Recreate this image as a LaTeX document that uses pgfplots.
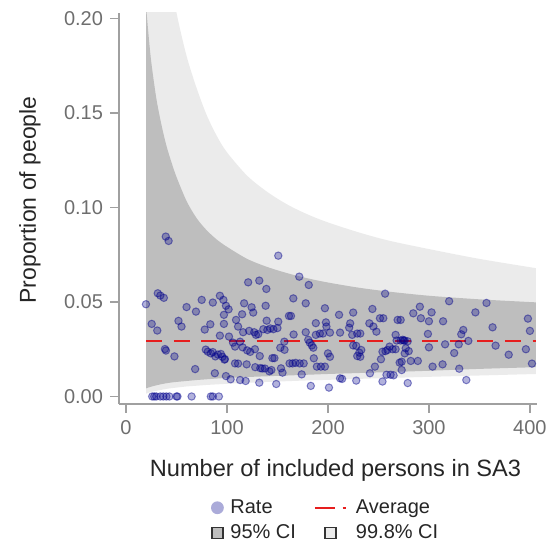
\documentclass[border=0pt]{standalone}
\usepackage{fontspec}
\setmainfont{Liberation Sans}
\usepackage{pgfplots}
\pgfplotsset{compat=1.18}
\usepackage{pgfplotstable}
\usepgfplotslibrary{fillbetween}

\definecolor{ci95}{RGB}{190,190,190}
\definecolor{ci998}{RGB}{235,235,235}
\definecolor{ptcol}{RGB}{0,0,139}
\definecolor{avgred}{RGB}{230,30,30}
\definecolor{axgray}{RGB}{160,160,160}
\definecolor{tickgray}{RGB}{110,110,110}

\pgfplotstableread{
n l998 l95 u95 u998
20 0.0015 0.0043 0.2060 0.450
22 0.0019 0.0047 0.1934 0.420
25 0.0024 0.0052 0.1772 0.380
30 0.0030 0.0059 0.1579 0.320
35 0.0035 0.0065 0.1441 0.280
40 0.0040 0.0070 0.1328 0.245
45 0.0044 0.0074 0.1240 0.222
50 0.0047 0.0077 0.1162 0.2032
60 0.0053 0.0082 0.1034 0.1802
70 0.0057 0.0087 0.0943 0.1631
80 0.0061 0.0091 0.0879 0.1488
90 0.0064 0.0095 0.0830 0.1378
100 0.0067 0.0098 0.0792 0.1292
120 0.0072 0.0103 0.0728 0.1168
140 0.0077 0.0107 0.0685 0.1082
160 0.0081 0.0111 0.0652 0.1015
180 0.0085 0.0115 0.0625 0.0963
200 0.0088 0.0119 0.0603 0.0921
230 0.0093 0.0124 0.0576 0.0869
260 0.0098 0.0129 0.0555 0.0825
300 0.0104 0.0136 0.0533 0.0780
350 0.0111 0.0146 0.0514 0.0728
406 0.0119 0.0155 0.0498 0.0679
}\bands

\pgfplotstableread{
n rate
26 0
28 0
30 0
34 0
37 0
40 0
43 0
50 0
51 0
65 0
84 0
86 0
92 0
19.8 0.0488
25.5 0.0384
31 0.0349
31.5 0.0546
34 0.0534
37.5 0.0522
38.6 0.0251
39.6 0.0243
39.4 0.0846
42.2 0.0823
48 0.0212
52 0.0400
55 0.0370
60 0.0473
68.5 0.0145
69.3 0.0449
75 0.0511
78 0.0354
79 0.0248
81 0.0237
83.5 0.0382
84 0.0228
86 0.0497
86 0.0235
88 0.0123
88.5 0.0212
91 0.0222
93 0.0533
93 0.0322
94 0.0225
95.5 0.0210
96.5 0.0511
97 0.0432
97 0.0384
97.5 0.0195
98 0.0198
99 0.0480
99 0.0108
101.6 0.0461
102 0.0317
103.6 0.0091
106 0.0285
108 0.0175
108 0.0264
109 0.0405
111 0.0370
111 0.0174
113 0.0290
113 0.0087
115 0.0435
115.5 0.0260
116 0.0340
117 0.0493
118.5 0.0082
119.5 0.0170
120 0.0244
121 0.0604
122 0.0347
123 0.0236
124.4 0.0472
126 0.0444
127 0.0340
127.7 0.0250
128 0.0155
128.7 0.0326
131 0.0330
132 0.0613
132 0.0073
132.5 0.0214
133 0.0150
135 0.0148
136 0.0356
137.6 0.0148
138.3 0.0480
139 0.0569
139.3 0.0401
140 0.0352
142 0.0133
143 0.0360
144 0.0140
145 0.0203
146 0.0356
147 0.0203
148.8 0.0066
150 0.0362
150.8 0.0745
150.8 0.0396
152.8 0.0258
153.5 0.0149
155 0.0126
156.8 0.0290
157 0.0247
161.4 0.0426
163.4 0.0426
162 0.0175
165 0.0175
165.7 0.0519
166 0.0328
168 0.0178
171.6 0.0634
172 0.0175
174 0.0117
176 0.0175
178 0.0493
178 0.0340
180.5 0.0300
181 0.0590
182 0.0285
183 0.0056
184 0.0270
185.5 0.0258
186 0.0202
188 0.0326
188 0.0388
189 0.0158
193 0.0158
192 0.0333
195 0.0333
197 0.0467
197 0.0158
198 0.0392
198.5 0.0370
200 0.0228
201 0.0047
202 0.0338
202 0.0210
211 0.0432
212 0.0338
212 0.0096
214 0.0093
221 0.0364
222 0.0387
224 0.0326
225 0.0444
225 0.0270
228 0.0084
228 0.0268
229 0.0333
229 0.0214
231 0.0232
232 0.0210
232 0.0333
233 0.0246
241 0.0387
241.6 0.0123
244 0.0463
245 0.0370
246.5 0.0158
248 0.0343
251.5 0.0414
254 0.0079
254 0.0237
254.8 0.0414
252.5 0.0197
256.6 0.0544
257 0.0240
258 0.0115
259 0.0246
261 0.0264
262 0.0115
265 0.0112
264 0.0250
267 0.0326
267 0.0250
269 0.0405
272 0.0405
268 0.0296
271 0.0179
272 0.0296
274 0.0300
275 0.0296
276 0.0296
273 0.0184
273 0.0140
276 0.0228
277 0.0255
279 0.0292
279 0.0071
280 0.0240
282 0.0188
284.5 0.0440
289 0.0188
291 0.0475
292 0.0414
299 0.0331
300 0.0260
300 0.0398
302.6 0.0445
303.6 0.0158
313.5 0.0170
314 0.0398
316 0.0276
320 0.0504
325 0.0230
329.5 0.0276
330 0.0147
332 0.0329
334 0.0352
337 0.0087
339 0.0294
346 0.0445
357 0.0495
363 0.0366
366 0.0269
379 0.0221
396 0.0250
398 0.0412
400 0.0347
402 0.0174
}\rates

\begin{document}
\begin{tikzpicture}
\begin{axis}[
  scale only axis, width=209pt, height=195.5pt,
  xmin=-6.9, xmax=407, ymin=-0.00397, ymax=0.2029,
  axis lines*=left,
  axis line style={axgray, line width=0.8pt},
  tick align=outside, major tick length=4.5pt,
  tick style={axgray, line width=0.8pt},
  xtick={0,100,200,300,400}, ytick={0,0.05,0.1,0.15,0.2},
  /pgf/number format/assume math mode=true,
  y tick label style={/pgf/number format/.cd, fixed, fixed zerofill, precision=2, /tikz/.cd},
  tick label style={font=\fontsize{10}{12}\selectfont, text=tickgray},
  xlabel={Number of included persons in SA3},
  ylabel={Proportion of people},
  every axis x label/.style={at={(axis description cs:0.518,-0.171)}, anchor=center,
    font=\fontsize{11.8}{14}\selectfont, text=black!85},
  every axis y label/.style={at={(axis description cs:-0.213,0.522)}, rotate=90, anchor=center,
    font=\fontsize{11.5}{14}\selectfont, text=black!85},
  legend columns=2,
  legend cell align=left,
  legend style={draw=none, fill=none, at={(0.496,-0.2327)}, anchor=north, inner sep=0pt,
    font=\fontsize{10}{12}\selectfont, text=black!85,
    /tikz/every even column/.append style={column sep=7pt}, row sep=0pt},
]
\addplot[name path=u998, draw=none, forget plot, smooth] table[x=n, y=u998]{\bands};
\addplot[name path=l998, draw=none, forget plot, smooth] table[x=n, y=l998]{\bands};
\addplot[name path=u95, draw=none, forget plot, smooth] table[x=n, y=u95]{\bands};
\addplot[name path=l95, draw=none, forget plot, smooth] table[x=n, y=l95]{\bands};
\addplot[fill=ci998, draw=none, forget plot] fill between[of=u998 and l998];
\addplot[fill=ci95, draw=none, forget plot] fill between[of=u95 and l95];
\addplot[avgred, line width=1pt, dash pattern=on 8pt off 5.8pt, forget plot] coordinates {(20,0.0292) (406,0.0292)};
\addplot[only marks, mark=*, mark size=1.85pt, forget plot,
  mark options={draw=ptcol, fill=ptcol, draw opacity=0.45, fill opacity=0.3, line width=0.5pt}]
  table[x=n, y=rate]{\rates};
\addlegendimage{legend image code/.code={\path[draw=none, fill=none] (0pt,-3.2pt) rectangle (8pt,3.2pt); \path[draw=none, fill=ptcol, fill opacity=0.33] (3.5pt,0pt) circle (3.2pt);}}
\addlegendimage{legend image code/.code={\path[draw=none, fill=none] (0pt,-3.2pt) rectangle (18.5pt,3.2pt); \draw[avgred, line width=1pt, dash pattern=on 10pt off 3.8pt on 1.7pt off 20pt] (0pt,0pt) -- (15.5pt,0pt);}}
\addlegendimage{legend image code/.code={\path[draw=none, fill=none] (0pt,-3.2pt) rectangle (8pt,3.2pt); \path[draw=black!80, fill=ci95, line width=0.6pt] (0.75pt,-2.75pt) rectangle (6.25pt,2.75pt);}}
\addlegendimage{legend image code/.code={\path[draw=none, fill=none] (0pt,-3.2pt) rectangle (18.5pt,3.2pt); \path[draw=black!80, fill=ci998, line width=0.6pt] (5pt,-2.75pt) rectangle (10.5pt,2.75pt);}}
\legend{Rate, Average, 95\% CI, 99.8\% CI}
\end{axis}
\pgfresetboundingbox
\path[use as bounding box] ([xshift=-59.5pt,yshift=-70pt]current axis.south west) rectangle ([xshift=217.5pt,yshift=202pt]current axis.south west);
\end{tikzpicture}
\end{document}
